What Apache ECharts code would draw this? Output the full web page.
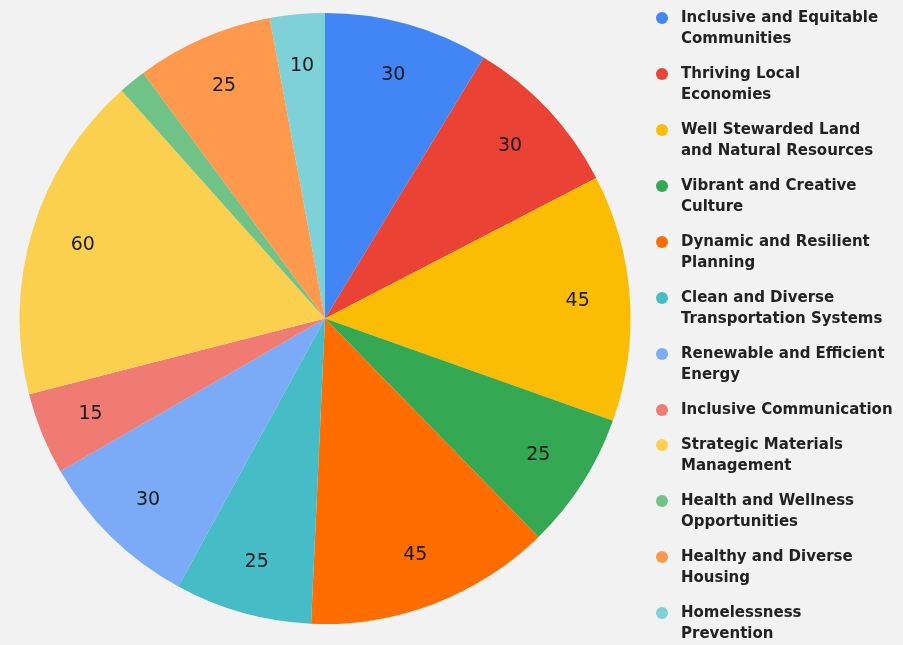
<!DOCTYPE html>
<html>
<head>
<meta charset="utf-8">
<script src="https://cdn.jsdelivr.net/npm/echarts@6/dist/echarts.min.js"></script>
<style>
html,body{margin:0;padding:0;background:#f2f2f2;}
#chart{width:903px;height:645px;}
</style>
</head>
<body>
<div id="chart"></div>
<script>
const categories = [
  'Inclusive and Equitable Communities',
  'Thriving Local Economies',
  'Well Stewarded Land and Natural Resources',
  'Vibrant and Creative Culture',
  'Dynamic and Resilient Planning',
  'Clean and Diverse Transportation Systems',
  'Renewable and Efficient Energy',
  'Inclusive Communication',
  'Strategic Materials Management',
  'Health and Wellness Opportunities',
  'Healthy and Diverse Housing',
  'Homelessness Prevention'
];
const legendLabels = [
  'Inclusive and Equitable\nCommunities',
  'Thriving Local\nEconomies',
  'Well Stewarded Land\nand Natural Resources',
  'Vibrant and Creative\nCulture',
  'Dynamic and Resilient\nPlanning',
  'Clean and Diverse\nTransportation Systems',
  'Renewable and Efficient\nEnergy',
  'Inclusive Communication',
  'Strategic Materials\nManagement',
  'Health and Wellness\nOpportunities',
  'Healthy and Diverse\nHousing',
  'Homelessness\nPrevention'
];
const values = [30, 30, 45, 25, 45, 25, 30, 15, 60, 5, 25, 10];
const colors = ['#4285f4', '#ea4335', '#fbbc04', '#34a853', '#ff6d01', '#46bdc6',
                '#7baaf7', '#f07b72', '#fcd04f', '#71c287', '#ff994d', '#7ed1d7'];

const FONT = '"DejaVu Sans", Verdana, sans-serif';
const twoLineIcon = 'path://M0,0 L0,0 M20,42 L20,42 M4,10.5 A6,6 0 1 1 16,10.5 A6,6 0 1 1 4,10.5 Z';
const oneLineIcon = 'path://M0,0 L0,0 M20,21 L20,21 M4,10.5 A6,6 0 1 1 16,10.5 A6,6 0 1 1 4,10.5 Z';

const chart = echarts.init(document.getElementById('chart'), null, {renderer: 'canvas'});
chart.setOption({
  backgroundColor: '#f2f2f2',
  animation: false,
  legend: {
    orient: 'vertical',
    left: 652,
    top: 7.5,
    padding: 0,
    itemGap: 14,
    itemWidth: 20,
    itemHeight: 42,
    symbolKeepAspect: true,
    selectedMode: false,
    data: categories.map((c, i) => ({
      name: c,
      icon: legendLabels[i].indexOf('\n') >= 0 ? twoLineIcon : oneLineIcon
    })),
    formatter: name => legendLabels[categories.indexOf(name)],
    textStyle: {
      fontFamily: FONT,
      fontWeight: 'bold',
      fontSize: 15,
      lineHeight: 21,
      color: '#222',
      padding: [0, 0, 0, 4]
    }
  },
  series: [
    {
      type: 'pie',
      center: [325, 318.5],
      radius: 305.5,
      startAngle: 90,
      clockwise: true,
      silent: true,
      label: {show: false},
      labelLine: {show: false},
      itemStyle: {borderWidth: 0},
      data: categories.map((c, i) => ({name: c, value: values[i], itemStyle: {color: colors[i]}}))
    },
    {
      type: 'pie',
      center: [325, 318.5],
      radius: [195, 305.5],
      startAngle: 90,
      clockwise: true,
      silent: true,
      minShowLabelAngle: 8,
      itemStyle: {color: 'rgba(0,0,0,0)', borderWidth: 0},
      label: {
        show: true,
        position: 'inside',
        formatter: '{c}',
        fontFamily: FONT,
        fontSize: 19,
        color: '#1a1a1a'
      },
      labelLine: {show: false},
      data: categories.map((c, i) => ({name: c, value: values[i]}))
    }
  ]
});
</script>
</body>
</html>
